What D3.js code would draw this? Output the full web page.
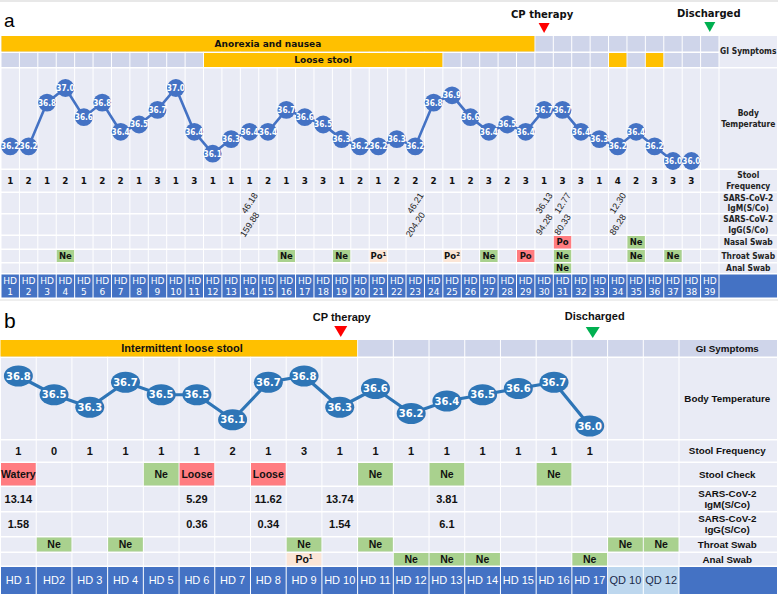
<!DOCTYPE html>
<html>
<head>
<meta charset="utf-8">
<script src="https://cdn.jsdelivr.net/npm/d3@7"></script>
<style>
body{margin:0;background:#fff}
svg{display:block}
</style>
</head>
<body>
<svg id="chart"></svg>
<script>
// ---------- panel a ----------
var daysA = ["1","2","3","4","5","6","7","8","9","10","11","12","13","14","15","16","17","18","19","20",
             "21","22","23","24","25","26","27","28","29","30","31","32","33","34","35","36","37","38","39"]
var tempA = [36.2,36.2,36.8,37.0,36.6,36.8,36.4,36.5,36.7,37.0,36.4,36.1,36.3,36.4,36.4,36.7,36.6,36.5,36.3,36.2,
             36.2,36.3,36.2,36.8,36.9,36.6,36.4,36.5,36.4,36.7,36.7,36.4,36.3,36.2,36.4,36.2,36.0,36.0]
var stoolA = [1,2,1,2,1,2,2,1,3,1,3,1,1,1,2,1,3,3,1,2,1,2,2,2,1,2,3,2,3,1,3,3,1,4,2,3,3,3]
var giA = [{row:0, from:"1", to:"29", label:"Anorexia and nausea"},
           {row:1, from:"12", to:"24", label:"Loose stool"},
           {row:1, from:"34", to:"34", label:""},
           {row:1, from:"36", to:"36", label:""}]
var igA = [{day:"14", igm:"46.18", igg:"159.88"},
           {day:"23", igm:"46.21", igg:"204.20"},
           {day:"30", igm:"36.13", igg:"94.28"},
           {day:"31", igm:"12.77", igg:"80.33"},
           {day:"34", igm:"12.30", igg:"86.28"}]
var nasalA = [{day:"31", res:"Po"}, {day:"35", res:"Ne"}]
var throatA = [{day:"4", res:"Ne"},{day:"16", res:"Ne"},{day:"19", res:"Ne"},{day:"21", res:"Po", sup:"1"},
               {day:"25", res:"Po", sup:"2"},{day:"27", res:"Ne"},{day:"29", res:"Po"},{day:"31", res:"Ne"},
               {day:"35", res:"Ne"},{day:"37", res:"Ne"}]
var analA = [{day:"31", res:"Ne"}]
var labelsA = ["GI Symptoms","Body|Temperature","Stool|Frequency","SARS-CoV-2|IgM(S/Co)","SARS-CoV-2|IgG(S/Co)",
               "Nasal Swab","Throat Swab","Anal Swab"]

// ---------- panel b ----------
var daysB = ["HD 1","HD2","HD 3","HD 4","HD 5","HD 6","HD 7","HD 8","HD 9","HD 10","HD 11","HD 12","HD 13",
             "HD 14","HD 15","HD 16","HD 17","QD 10","QD 12"]
var tempB = [36.8,36.5,36.3,36.7,36.5,36.5,36.1,36.7,36.8,36.3,36.6,36.2,36.4,36.5,36.6,36.7,36.0]
var stoolB = [1,0,1,1,1,1,2,1,3,1,1,1,1,1,1,1,1]
var giB = [{from:"HD 1", to:"HD 10", label:"Intermittent loose stool"}]
var checkB = [{day:"HD 1", res:"Watery"},{day:"HD 5", res:"Ne"},{day:"HD 6", res:"Loose"},{day:"HD 8", res:"Loose"},
              {day:"HD 11", res:"Ne"},{day:"HD 13", res:"Ne"},{day:"HD 16", res:"Ne"}]
var igmB = [{day:"HD 1", v:"13.14"},{day:"HD 6", v:"5.29"},{day:"HD 8", v:"11.62"},{day:"HD 10", v:"13.74"},{day:"HD 13", v:"3.81"}]
var iggB = [{day:"HD 1", v:"1.58"},{day:"HD 6", v:"0.36"},{day:"HD 8", v:"0.34"},{day:"HD 10", v:"1.54"},{day:"HD 13", v:"6.1"}]
var throatB = [{day:"HD2", res:"Ne"},{day:"HD 4", res:"Ne"},{day:"HD 9", res:"Ne"},{day:"HD 11", res:"Ne"},
               {day:"QD 10", res:"Ne"},{day:"QD 12", res:"Ne"}]
var analB = [{day:"HD 9", res:"Po", sup:"1"},{day:"HD 12", res:"Ne"},{day:"HD 13", res:"Ne"},{day:"HD 14", res:"Ne"},
             {day:"HD 17", res:"Ne"}]
var labelsB = ["GI Symptoms","Body Temperature","Stool Frequency","Stool Check","SARS-CoV-2|IgM(S/Co)",
               "SARS-CoV-2|IgG(S/Co)","Throat Swab","Anal Swab"]

var events = {a:{cp:"30", out:"39"}, b:{cp:"HD 10", out:"HD 17"}}

var colors = {cell:"#E9EBF5", gi:"#CFD5EA", orange:"#FFC000", green:"#A9D18E", red:"#FF7C80",
              peach:"#FBE5D6", hd:"#4472C4", qd:"#BDD7EE", dotA:"#4472C4", dotB:"#2E75B6"}

var W = 778, H = 594
var svg = d3.select("#chart").attr("width", W).attr("height", H)
    .style("font-family", "'DejaVu Sans', Verdana, sans-serif")

svg.append("rect").attr("x",0).attr("y",0).attr("width",W).attr("height",2).attr("fill","#e8e8e8")
svg.append("rect").attr("x",0).attr("y",299).attr("width",W).attr("height",2).attr("fill","#eeeeee")

function badgeColor(d){
    if (d.res == "Ne") return colors.green
    if (d.sup) return colors.peach
    return colors.red
}

function drawText(g, str, x, y, size, weight, fill, lineH){
    var parts = str.split("|")
    var t = g.append("text").attr("x", x).attr("text-anchor","middle")
        .attr("font-size", size).attr("font-weight", weight).attr("fill", fill)
    var y0 = y - (parts.length-1)*lineH/2
    parts.forEach(function(p,i){
        t.append("tspan").attr("x", x).attr("y", y0 + i*lineH).attr("dy","0.35em").text(p)
    })
    return t
}

function badges(g, x, data, row, size, family){
    var bw = x.bandwidth()
    var b = g.append("g").selectAll("g").data(data).enter().append("g")
    b.append("rect")
        .attr("x", d => x(d.day)+0.5).attr("y", row[0])
        .attr("width", bw-1).attr("height", row[1]-row[0])
        .attr("fill", badgeColor)
    var t = b.append("text")
        .attr("x", d => x(d.day)+bw/2).attr("y", (row[0]+row[1])/2).attr("dy","0.36em")
        .attr("text-anchor","middle").attr("font-size", size).attr("font-weight","bold")
        .attr("font-family", family).attr("fill","#111")
    t.append("tspan").text(d => d.res)
    t.append("tspan").attr("font-size", size*0.65).attr("dy", -size*0.4).text(d => d.sup || "")
}

function arrow(g, cx, y, w, h, fill){
    g.append("path").attr("d", d3.line()([[cx-w/2,y],[cx+w/2,y],[cx,y+h]]) + "Z").attr("fill", fill)
}

// ================= PANEL A =================
;(function(){
    var g = svg.append("g")
    var fam = "'DejaVu Sans', Verdana, sans-serif"
    var x = d3.scaleBand().domain(daysA).range([1, 719])
    var bw = x.bandwidth()
    var rows = {gi1:[36,51.5], gi2:[53,67], temp:[68.5,168.5], stool:[170,191.5], igm:[193,213],
                igg:[214.5,234.5], nasal:[236,248.5], throat:[250,262], anal:[263.5,273], hd:[274.5,297.5]}
    var lab = [719.5, 777]

    g.append("text").attr("x",4).attr("y",27).attr("font-size",19).attr("font-family","'Liberation Sans', Arial")
        .text("a")

    // GI rows
    ;["gi1","gi2"].forEach(function(r){
        g.append("g").selectAll("rect").data(daysA).enter().append("rect")
            .attr("x", d => x(d)+0.5).attr("y", rows[r][0]).attr("width", bw-1)
            .attr("height", rows[r][1]-rows[r][0]).attr("fill", colors.gi)
    })
    giA.forEach(function(s){
        var r = rows[s.row==0 ? "gi1" : "gi2"]
        var x0 = x(s.from), x1 = x(s.to)+bw
        g.append("rect").attr("x", x0+0.5).attr("y", r[0]).attr("width", x1-x0-1).attr("height", r[1]-r[0])
            .attr("fill", colors.orange)
        if (s.label) g.append("text").attr("x",(x0+x1)/2).attr("y",(r[0]+r[1])/2).attr("dy","0.36em")
            .attr("text-anchor","middle").attr("font-size",9).attr("font-weight","bold").attr("fill","#111")
            .text(s.label)
    })

    // background cells
    ;["temp","stool","igm","igg","nasal","throat","anal"].forEach(function(r){
        g.append("g").selectAll("rect").data(daysA).enter().append("rect")
            .attr("x", d => x(d)+0.5).attr("y", rows[r][0]).attr("width", bw-1)
            .attr("height", rows[r][1]-rows[r][0]).attr("fill", colors.cell)
    })

    // label column
    var labRows = [[rows.gi1[0], rows.gi2[1]], rows.temp, rows.stool, rows.igm, rows.igg, rows.nasal, rows.throat, rows.anal]
    labRows.forEach(function(r,i){
        g.append("rect").attr("x", lab[0]).attr("y", r[0]).attr("width", lab[1]-lab[0]).attr("height", r[1]-r[0])
            .attr("fill", colors.cell)
        drawText(g, labelsA[i], (lab[0]+lab[1])/2, (r[0]+r[1])/2, 8.4, "bold", "#222", 10.5)
            .attr("font-family", "'DejaVu Sans Condensed', 'DejaVu Sans', sans-serif")
    })

    // HD row
    g.append("g").selectAll("rect").data(daysA).enter().append("rect")
        .attr("x", d => x(d)+0.5).attr("y", rows.hd[0]).attr("width", bw-1)
        .attr("height", rows.hd[1]-rows.hd[0]).attr("fill", colors.hd)
    g.append("rect").attr("x", lab[0]).attr("y", rows.hd[0]).attr("width", lab[1]-lab[0])
        .attr("height", rows.hd[1]-rows.hd[0]).attr("fill", colors.hd)
    daysA.forEach(function(d){
        drawText(g, "HD|"+d, x(d)+bw/2, (rows.hd[0]+rows.hd[1])/2, 9, "normal", "#fff", 11)
    })

    // temperature
    var y = d3.scaleLinear().domain([36.0, 37.0]).range([161, 88])
    var pts = tempA.map((t,i) => [x(daysA[i])+bw/2, y(t)])
    g.append("path").attr("d", d3.line()(pts)).attr("fill","none")
        .attr("stroke", colors.dotA).attr("stroke-width", 2.6)
    var dots = g.append("g").selectAll("g").data(tempA).enter().append("g")
    dots.append("circle").attr("cx", (d,i) => x(daysA[i])+bw/2).attr("cy", d => y(d)).attr("r", 8.9)
        .attr("fill", colors.dotA)
    dots.append("text").attr("x", (d,i) => x(daysA[i])+bw/2).attr("y", d => y(d)).attr("dy","0.36em")
        .attr("text-anchor","middle").attr("font-size",8.2).attr("font-weight","bold").attr("fill","#fff")
        .attr("font-family","'DejaVu Sans Condensed', 'DejaVu Sans', sans-serif")
        .text(d => d.toFixed(1))

    // stool frequency
    g.append("g").selectAll("text").data(stoolA).enter().append("text")
        .attr("x", (d,i) => x(daysA[i])+bw/2).attr("y", (rows.stool[0]+rows.stool[1])/2).attr("dy","0.36em")
        .attr("text-anchor","middle").attr("font-size",8.8).attr("font-weight","bold").attr("fill","#111")
        .text(d => d)

    // antibodies, rotated
    ;[["igm","igm"],["igg","igg"]].forEach(function(k){
        var r = rows[k[0]]
        g.append("g").selectAll("text").data(igA).enter().append("text")
            .attr("transform", d => "translate(" + (x(d.day)+bw/2) + "," + ((r[0]+r[1])/2) + ") rotate(-57)")
            .attr("dy","0.35em").attr("text-anchor","middle").attr("font-size",9).attr("fill","#222")
            .attr("font-family","'Liberation Sans', Arial, sans-serif")
            .text(d => d[k[1]])
    })

    badges(g, x, nasalA, rows.nasal, 8.5, fam)
    badges(g, x, throatA, rows.throat, 8.5, fam)
    badges(g, x, analA, rows.anal, 8.5, fam)

    // events
    var cx = x(events.a.cp)+bw/2, ox = x(events.a.out)+bw/2
    g.append("text").attr("x", cx-2).attr("y", 18).attr("text-anchor","middle").attr("font-size",10)
        .attr("font-weight","bold").attr("fill","#111").text("CP therapy")
    arrow(g, cx, 23, 11, 10, "#FF0000")
    g.append("text").attr("x", ox-1).attr("y", 17).attr("text-anchor","middle").attr("font-size",10)
        .attr("font-weight","bold").attr("fill","#111").text("Discharged")
    arrow(g, ox, 22, 11, 10, "#00B050")
})()

// ================= PANEL B =================
;(function(){
    var g = svg.append("g")
    var fam = "'Liberation Sans', Arial, sans-serif"
    g.style("font-family", fam)
    var x = d3.scaleBand().domain(daysB).range([0.5, 679])
    var bw = x.bandwidth()
    var rows = {gi:[340,356.5], temp:[358,439], stool:[440.5,461.5], check:[463,485.5], igm:[487,511],
                igg:[512.5,536], throat:[537.5,551.5], anal:[553,565.5], hd:[567,594]}
    var lab = [679.5, 777]

    g.append("text").attr("x",4).attr("y",328).attr("font-size",21).attr("font-family","'Liberation Sans', Arial")
        .text("b")

    g.append("g").selectAll("rect").data(daysB).enter().append("rect")
        .attr("x", d => x(d)+0.5).attr("y", rows.gi[0]).attr("width", bw-1)
        .attr("height", rows.gi[1]-rows.gi[0]).attr("fill", colors.gi)
    giB.forEach(function(s){
        var x0 = x(s.from), x1 = x(s.to)+bw
        g.append("rect").attr("x", x0).attr("y", rows.gi[0]).attr("width", x1-x0-0.5)
            .attr("height", rows.gi[1]-rows.gi[0]).attr("fill", colors.orange)
        g.append("text").attr("x",(x0+x1)/2 + 3).attr("y",(rows.gi[0]+rows.gi[1])/2).attr("dy","0.36em")
            .attr("text-anchor","middle").attr("font-size",11).attr("font-weight","bold").attr("fill","#111")
            .text(s.label)
    })

    ;["temp","stool","check","igm","igg","throat","anal"].forEach(function(r){
        g.append("g").selectAll("rect").data(daysB).enter().append("rect")
            .attr("x", d => x(d)+0.5).attr("y", rows[r][0]).attr("width", bw-1)
            .attr("height", rows[r][1]-rows[r][0]).attr("fill", colors.cell)
    })

    var labRows = [rows.gi, rows.temp, rows.stool, rows.check, rows.igm, rows.igg, rows.throat, rows.anal]
    labRows.forEach(function(r,i){
        g.append("rect").attr("x", lab[0]).attr("y", r[0]).attr("width", lab[1]-lab[0]).attr("height", r[1]-r[0])
            .attr("fill", i==0 ? colors.gi : colors.cell)
        drawText(g, labelsB[i], (lab[0]+lab[1])/2 - 1, (r[0]+r[1])/2, 9.8, "bold", "#111", 11.5)
    })

    // HD row
    g.append("g").selectAll("rect").data(daysB).enter().append("rect")
        .attr("x", d => x(d)+0.5).attr("y", rows.hd[0]).attr("width", bw-1)
        .attr("height", rows.hd[1]-rows.hd[0]).attr("fill", d => d.indexOf("QD")==0 ? colors.qd : colors.hd)
    g.append("rect").attr("x", lab[0]).attr("y", rows.hd[0]).attr("width", lab[1]-lab[0])
        .attr("height", rows.hd[1]-rows.hd[0]).attr("fill", colors.hd)
    g.append("g").selectAll("text").data(daysB).enter().append("text")
        .attr("x", d => x(d)+bw/2).attr("y", (rows.hd[0]+rows.hd[1])/2).attr("dy","0.36em")
        .attr("text-anchor","middle").attr("font-size",11)
        .attr("fill", d => d.indexOf("QD")==0 ? "#1a2a4a" : "#fff")
        .text(d => d)

    // temperature
    var y = d3.scaleLinear().domain([36.0, 36.8]).range([426, 376])
    var pts = tempB.map((t,i) => [x(daysB[i])+bw/2, y(t)])
    g.append("path").attr("d", d3.line()(pts)).attr("fill","none")
        .attr("stroke", colors.dotB).attr("stroke-width", 3.2)
    var dots = g.append("g").selectAll("g").data(tempB).enter().append("g")
    dots.append("ellipse").attr("cx", (d,i) => x(daysB[i])+bw/2).attr("cy", d => y(d))
        .attr("rx", 14.5).attr("ry", 10.5).attr("fill", colors.dotB)
    dots.append("text").attr("x", (d,i) => x(daysB[i])+bw/2).attr("y", d => y(d)).attr("dy","0.36em")
        .attr("text-anchor","middle").attr("font-size",10).attr("font-weight","bold").attr("fill","#fff")
        .attr("font-family","'DejaVu Sans', Verdana, sans-serif")
        .text(d => d.toFixed(1))

    // stool frequency
    g.append("g").selectAll("text").data(stoolB).enter().append("text")
        .attr("x", (d,i) => x(daysB[i])+bw/2).attr("y", (rows.stool[0]+rows.stool[1])/2).attr("dy","0.36em")
        .attr("text-anchor","middle").attr("font-size",11).attr("font-weight","bold").attr("fill","#111")
        .text(d => d)

    badges(g, x, checkB, rows.check, 10.5, fam)

    ;[[igmB,"igm"],[iggB,"igg"]].forEach(function(k){
        var r = rows[k[1]]
        g.append("g").selectAll("text").data(k[0]).enter().append("text")
            .attr("x", d => x(d.day)+bw/2).attr("y", (r[0]+r[1])/2).attr("dy","0.36em")
            .attr("text-anchor","middle").attr("font-size",11).attr("font-weight","bold").attr("fill","#111")
            .text(d => d.v)
    })

    badges(g, x, throatB, rows.throat, 10.5, fam)
    badges(g, x, analB, rows.anal, 10.5, fam)

    var cx = x(events.b.cp)+bw/2, ox = x(events.b.out)+bw/2
    g.append("text").attr("x", cx+2).attr("y", 321).attr("text-anchor","middle").attr("font-size",11)
        .attr("font-weight","bold").attr("fill","#111").text("CP therapy")
    arrow(g, cx+1, 326, 13, 11, "#FF0000")
    g.append("text").attr("x", ox+5).attr("y", 320).attr("text-anchor","middle").attr("font-size",11)
        .attr("font-weight","bold").attr("fill","#111").text("Discharged")
    arrow(g, ox+3, 327, 14, 11, "#00B050")
})()
</script>
</body>
</html>
